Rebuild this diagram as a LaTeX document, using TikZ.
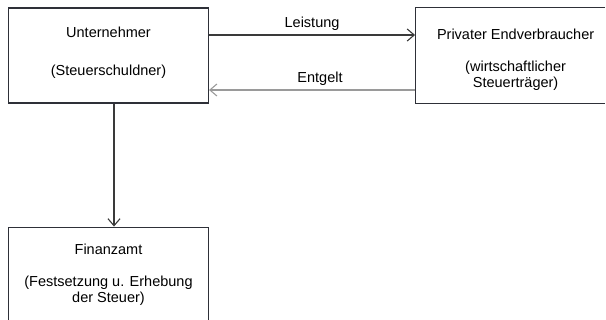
\documentclass[tikz,border=0pt]{standalone}
\usepackage{fontspec}
\setmainfont{Liberation Sans}
\usepackage{xcolor}
\usepackage{tikz}
\usetikzlibrary{arrows.meta, positioning}
\definecolor{boxline}{HTML}{2E3038}
\definecolor{flowdark}{HTML}{3A3A3A}
\definecolor{flowgray}{HTML}{9A9A9A}
\tikzset{
    party/.style={rectangle, minimum width=200pt, minimum height=95pt, draw=boxline, line width=1.1pt, align=center, text centered, font=\fontsize{14.5}{16}\selectfont},
    frame/.style={draw=boxline, line width=1.1pt},
    arrow/.style={line width=1.1pt, draw=flowdark, -{Straight Barb[length=7pt, width=12pt, line width=1.1pt]}},
    backarrow/.style={arrow, draw=flowgray},
    flowlabel/.style={font=\fontsize{14.5}{16}\selectfont, inner sep=4pt}
}
\begin{document}
\begin{tikzpicture}[
        node distance=206pt and 123pt % gaps between the boxes
    ]
        \useasboundingbox (0,0) rectangle (606pt,-320pt);
        \coordinate (pageright) at (605pt,0);

        % Nodes
        \node[party, text depth=9pt] (unt) at (108.5pt,-55.5pt) {Unternehmer\\[22pt](Steuerschuldner)};
        \node[party, draw=none, right=206pt of unt] (verbr) {\rule{0pt}{18.5pt}Privater Endverbraucher\\[16pt](wirtschaftlicher\\Steuertr\"ager)};
        \node[party, below=123pt of unt] (fa) {Finanzamt\\[16pt](Festsetzung u. Erhebung\\der Steuer)};
        % right box runs off the page: only three sides
        \draw[frame] (verbr.north -| pageright) -- (verbr.north west) -- (verbr.south west) -- (verbr.south -| pageright);

        % Arrows
        \draw[arrow] ([yshift=20.5pt]unt.east) -- node[flowlabel, above] (leist) {Leistung} ([yshift=20.5pt]verbr.west);
        \draw[backarrow] ([yshift=-34.5pt]verbr.west) -- node[flowlabel, above, xshift=8pt] (entg) {Entgelt} ([yshift=-34.5pt]unt.east);
        \draw[arrow] ([xshift=5.5pt]unt.south) -- ([xshift=5.5pt]fa.north);
    \end{tikzpicture}
\end{document}
